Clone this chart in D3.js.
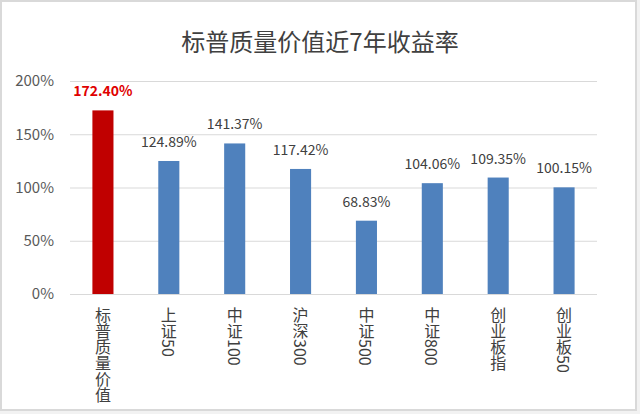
<!DOCTYPE html>
<html><head><meta charset="utf-8">
<script src="https://cdn.jsdelivr.net/npm/d3@7"></script>
<style>
html,body{margin:0;padding:0;background:#fff;}
svg{display:block;}
</style></head>
<body>
<svg id="c" width="640" height="414"></svg>
<script>
const categories = ["标普质量价值","上证50","中证100","沪深300","中证500","中证800","创业板指","创业板50"];
const values = [172.40, 124.89, 141.37, 117.42, 68.83, 104.06, 109.35, 100.15];
const labels = ["172.40%","124.89%","141.37%","117.42%","68.83%","104.06%","109.35%","100.15%"];
const yTicks = [0, 50, 100, 150, 200];
const title = "标普质量价值近7年收益率";

const svg = d3.select("#c");
const font = "'Noto Sans CJK SC','Noto Sans',sans-serif";

// background & border
svg.append("rect").attr("x",0).attr("y",0).attr("width",640).attr("height",414).attr("fill","#f2f2f2");
svg.append("rect").attr("x",1).attr("y",1).attr("width",635).attr("height",409)
  .attr("fill","#fff").attr("stroke","#d9d9d9").attr("stroke-width",2);

const x = d3.scaleBand().domain(categories).range([70, 597]).paddingInner(0.68).paddingOuter(0.34);
const y = d3.scaleLinear().domain([0, 200]).range([294, 81]);

// title
svg.append("text").attr("x", 320).attr("y", 40).attr("text-anchor","middle")
  .attr("dominant-baseline","central").attr("font-family", font).attr("font-size", 24)
  .attr("fill", "#404040").text(title);

// gridlines
const yAxis = d3.axisLeft(y).tickValues(yTicks).tickFormat(d => d + "%").tickSize(-527).tickPadding(16);
const gy = svg.append("g").attr("transform","translate(70,0)").call(yAxis);
gy.select(".domain").remove();
gy.selectAll(".tick line").attr("stroke","#d9d9d9").attr("stroke-width",1);
gy.selectAll(".tick text").attr("font-family", font).attr("font-size", 15).attr("fill","#595959");

// bars
svg.append("g").selectAll("rect").data(values).join("rect")
  .attr("x", (d,i) => x(categories[i]))
  .attr("y", d => y(d))
  .attr("width", x.bandwidth())
  .attr("height", d => y(0) - y(d))
  .attr("fill", (d,i) => i === 0 ? "#c00000" : "#4f81bd");

// data labels
svg.append("g").selectAll("text").data(values).join("text")
  .attr("x", (d,i) => x(categories[i]) + x.bandwidth()/2)
  .attr("y", d => y(d) - 20)
  .attr("text-anchor","middle").attr("dominant-baseline","central")
  .attr("font-family", font).attr("font-size", 14)
  .attr("font-weight", (d,i) => i === 0 ? "bold" : "normal")
  .attr("fill", (d,i) => i === 0 ? "#e00000" : "#404040")
  .text((d,i) => labels[i]);

// category labels (vertical)
svg.append("g").selectAll("text").data(categories).join("text")
  .attr("x", d => x(d) + x.bandwidth()/2)
  .attr("y", 307)
  .style("writing-mode","vertical-rl")
  .attr("font-family", font).attr("font-size", 16)
  .attr("fill","#404040")
  .text(d => d);
</script>
</body></html>
